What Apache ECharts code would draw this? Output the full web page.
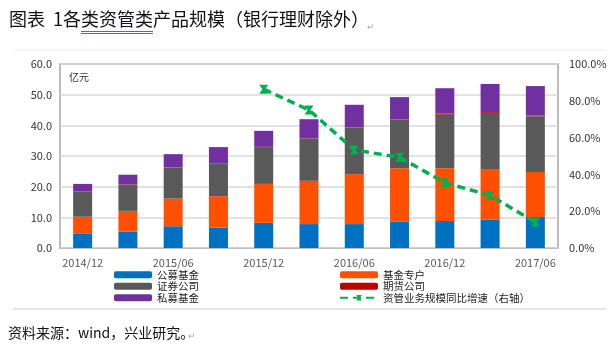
<!DOCTYPE html>
<html><head><meta charset="utf-8">
<script src="https://cdn.jsdelivr.net/npm/echarts@6/dist/echarts.min.js"></script>
<style>html,body{margin:0;padding:0;background:#fff}#c{width:616px;height:359px}</style>
</head><body><div id="c"></div>
<script>
const categories = ['2014/12','2015/03','2015/06','2015/09','2015/12','2016/03','2016/06','2016/09','2016/12','2017/03','2017/06'];
const publicFunds  = [4.6, 5.3, 7.1, 6.6, 8.2, 7.8, 7.8, 8.6, 8.8, 9.2, 10.1];
const fundAccounts = [5.6, 6.8, 9.0, 10.3, 12.7, 14.1, 16.3, 17.4, 17.2, 16.3, 14.7];
const securities   = [8.1, 8.6, 10.1, 10.7, 12.0, 13.8, 15.1, 15.9, 17.5, 18.5, 18.2];
const futures      = [0.1, 0.1, 0.1, 0.1, 0.1, 0.1, 0.1, 0.1, 0.3, 0.3, 0.2];
const privateFunds = [2.5, 3.1, 4.3, 5.2, 5.2, 6.2, 7.4, 7.2, 8.3, 9.2, 9.6];
const growthPct    = [null, null, null, null, 86.3, 75.0, 53.3, 49.3, 35.5, 28.6, 14.0];
const leftTicks = ['0.0','10.0','20.0','30.0','40.0','50.0','60.0'];
const rightTicks = ['0.0%','20.0%','40.0%','60.0%','80.0%','100.0%'];

const names = ['公募基金','基金专户','证券公司','期货公司','私募基金','资管业务规模同比增速（右轴）'];
const colors = ['#0070c0','#ff4f00','#595959','#c00000','#7030a0','#00b050'];
const stacks = [publicFunds, fundAccounts, securities, futures, privateFunds];
const FONT = '"Noto Sans CJK SC", "Noto Sans", sans-serif';

const chart = echarts.init(document.getElementById('c'));
const series = stacks.map((d,i)=>({
  name: names[i], type:'bar', stack:'a', data:d, barWidth:19,
  itemStyle:{color:colors[i]}
}));
series.push({
  name: names[5], type:'line', yAxisIndex:1, data:growthPct,
  lineStyle:{color:colors[5], width:3.5, type:[8,5]},
  itemStyle:{color:colors[5]},
  symbol:'path://M0,0 L10,0 L6.5,5 L10,10 L0,10 L3.5,5 Z', symbolSize:9
});
const legendText = {fontFamily:FONT, fontSize:10.5, color:'#222', lineHeight:11.5};
chart.setOption({
  animation:false,
  textStyle:{fontFamily:FONT},
  grid:{left:60, right:58, top:64, bottom:111, show:true, borderColor:'#a6a6a6', borderWidth:1.5},
  legend:[
    {left:114, top:269, orient:'vertical', itemWidth:38, itemHeight:7, itemGap:0, padding:[0,0,0,0],
     data:[names[0],names[2],names[4]], textStyle:legendText},
    {left:339, top:269, orient:'vertical', itemWidth:38, itemHeight:7, itemGap:0, padding:[0,0,0,0],
     data:[names[1],names[3],names[5]], textStyle:legendText}
  ],
  xAxis:{type:'category', data:categories, boundaryGap:true,
    axisLine:{lineStyle:{color:'#bfbfbf', width:1}},
    axisTick:{interval:1, length:4, lineStyle:{color:'#bfbfbf'}},
    axisLabel:{interval:1, color:'#595959', fontSize:11, margin:9, fontFamily:FONT}},
  yAxis:[
    {type:'value', min:0, max:60, interval:10,
     axisLabel:{formatter:(v)=>leftTicks[Math.round(v/10)], color:'#333', fontSize:11, margin:8, fontFamily:FONT},
     splitLine:{lineStyle:{color:'#d9d9d9', width:1.5}}, axisLine:{show:false}},
    {type:'value', min:0, max:100, interval:20,
     axisLabel:{formatter:(v)=>rightTicks[Math.round(v/20)], color:'#333', fontSize:11, margin:11, fontFamily:FONT},
     splitLine:{show:false}, axisLine:{show:false}}
  ],
  series: series,
  graphic:[
    {type:'text', left:9, top:10, style:{text:'图表', font:'18px '+FONT, fill:'#111'}},
    {type:'text', left:53, top:10, style:{text:'1各类资管类产品规模（银行理财除外）', font:'18px '+FONT, fill:'#111'}},
    {type:'text', left:367, top:22, style:{text:'↵', font:'9px '+FONT, fill:'#aaa'}},
    {type:'line', shape:{x1:81,y1:31.5,x2:153,y2:31.5}, style:{stroke:'#3a6fd8', lineWidth:1}},
    {type:'line', shape:{x1:81,y1:33.5,x2:153,y2:33.5}, style:{stroke:'#3a6fd8', lineWidth:1}},
    {type:'line', shape:{x1:13,y1:50,x2:606,y2:50}, style:{stroke:'#eeeeee', lineWidth:1}},
    {type:'line', shape:{x1:13,y1:309,x2:606,y2:309}, style:{stroke:'#cccccc', lineWidth:1}},
    {type:'text', left:69, top:72, style:{text:'亿元', font:'10px '+FONT, fill:'#333'}},
    {type:'text', left:8, top:326, style:{text:'资料来源：wind，兴业研究。', font:'14px '+FONT, fill:'#111'}},
    {type:'text', left:188, top:331, style:{text:'↵', font:'9px '+FONT, fill:'#aaa'}}
  ]
});
</script></body></html>
